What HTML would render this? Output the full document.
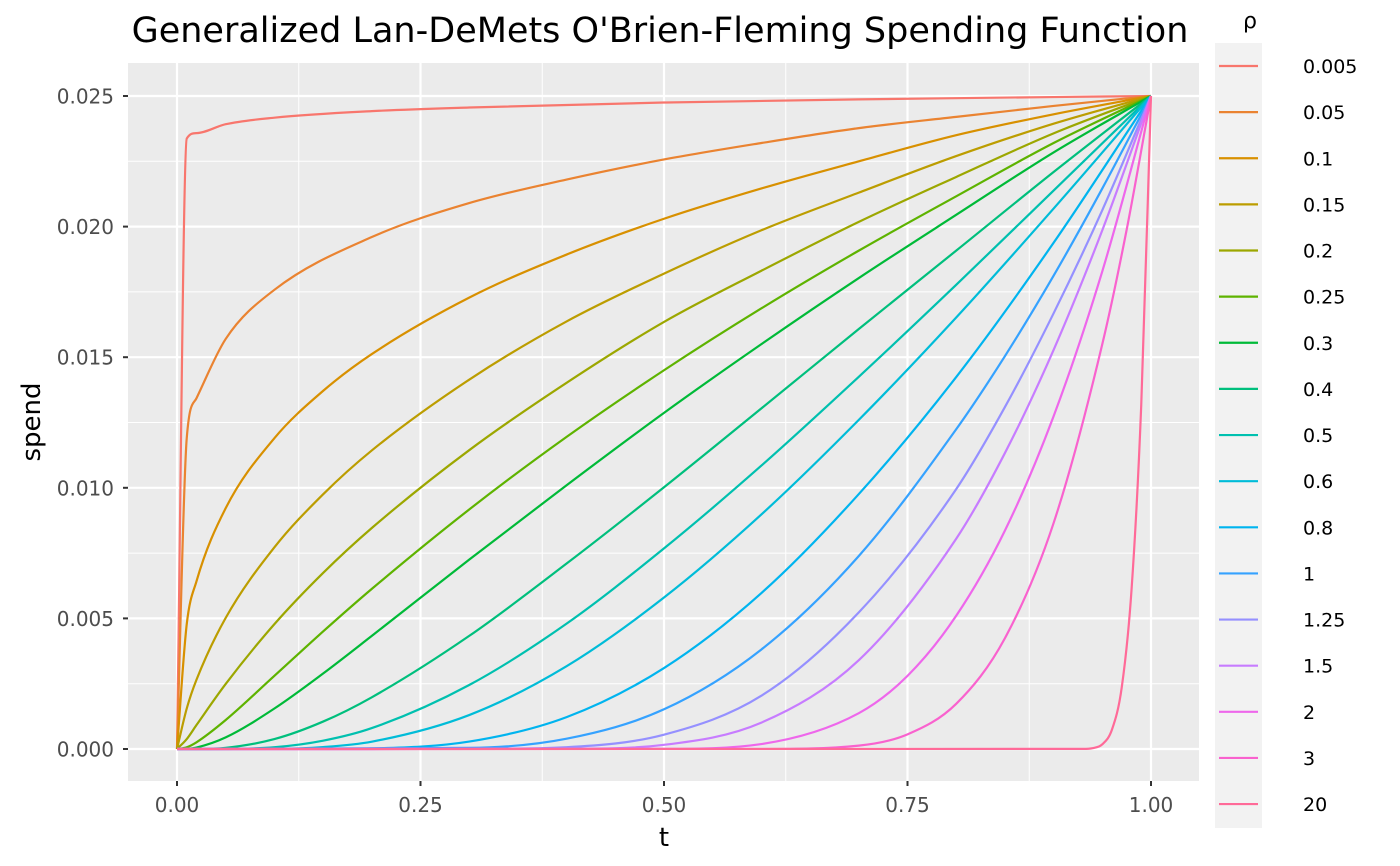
<!DOCTYPE html>
<html><head><meta charset="utf-8">
<style>
html,body{margin:0;padding:0;background:#fff;}
svg{display:block;font-family:"DejaVu Sans","Liberation Sans",sans-serif;}
</style></head>
<body>
<svg id="chart" width="1400" height="866" viewBox="0 0 1400 866">
<rect x="0" y="0" width="1400" height="866" fill="#fff"/>
<rect x="128" y="63" width="1071" height="718" fill="#ebebeb"/>
<g id="grid"></g>
<g id="series"></g>
<g id="axes"></g>
<text x="660" y="42" font-size="35" text-anchor="middle" fill="#000">Generalized Lan-DeMets O'Brien-Fleming Spending Function</text>
<text x="664" y="846" font-size="26" text-anchor="middle" fill="#000">t</text>
<text transform="translate(40,422) rotate(-90)" font-size="26" text-anchor="middle" fill="#000">spend</text>
<g id="legend">
<text x="1243" y="28" font-size="22" fill="#000">ρ</text>
<rect x="1215" y="43" width="47" height="785" fill="#f2f2f2"/>
</g>
</svg>
<script>
const xTicks = [0, 0.25, 0.5, 0.75, 1];
const xTickLabels = ["0.00", "0.25", "0.50", "0.75", "1.00"];
const yTicks = [0, 0.005, 0.01, 0.015, 0.02, 0.025];
const yTickLabels = ["0.000", "0.005", "0.010", "0.015", "0.020", "0.025"];
const colors = ["#F8766D","#EA8331","#D89000","#BC9D00","#9CA700","#5EB300","#00BA38","#00BF7D","#00C0AF","#00BCD8","#00B4EF","#35A2FF","#9590FF","#C77CFF","#EE67EB","#F962CE","#FF6A98"];
const t_r0005 = [0,0.01,0.02,0.05,0.1,0.2,0.3,0.5,0.7,0.9,1];
const s_r0005 = [0,0.02337,0.02358,0.02392,0.02417,0.02442,0.02456,0.02475,0.02487,0.02496,0.025];
const t_r005 = [0,0.01,0.02,0.05,0.1,0.2,0.3,0.4,0.5,0.6,0.7,0.8,0.9,1];
const s_r005 = [0,0.0119,0.01343,0.0157,0.01758,0.0196,0.0209,0.0218,0.02257,0.0232,0.02377,0.0242,0.02462,0.025];
const t_r01 = [0,0.01,0.02,0.05,0.1,0.15,0.2,0.3,0.4,0.5,0.6,0.7,0.8,0.9,1];
const s_r01 = [0,0.00478,0.00642,0.00922,0.0119,0.01371,0.01512,0.01728,0.01893,0.0203,0.02146,0.0225,0.0235,0.0243,0.025];
const t_r015 = [0,0.01,0.02,0.05,0.1,0.15,0.2,0.3,0.4,0.5,0.6,0.7,0.8,0.9,1];
const s_r015 = [0,0.00155,0.00265,0.00502,0.00772,0.00975,0.01143,0.01414,0.01637,0.0182,0.01986,0.0213,0.0227,0.02394,0.025];
const t_r02 = [0,0.01,0.02,0.05,0.1,0.15,0.2,0.3,0.4,0.5,0.6,0.7,0.8,0.9,1];
const s_r02 = [0,0.00038,0.000917,0.00249,0.00478,0.00674,0.00846,0.01144,0.01402,0.01635,0.01831,0.02018,0.0219,0.02357,0.025];
const t_r025 = [0,0.01,0.02,0.05,0.1,0.15,0.2,0.3,0.4,0.5,0.6,0.7,0.8,0.9,1];
const s_r025 = [0,0.000067,0.000257,0.00111,0.0028,0.0045,0.00613,0.00917,0.01195,0.0145,0.01687,0.01908,0.02116,0.0232,0.025];
const t_r03 = [0,0.01,0.02,0.05,0.1,0.15,0.2,0.3,0.4,0.5,0.6,0.7,0.8,0.9,1];
const s_r03 = [0,0.000008,0.000055,0.000443,0.00155,0.00289,0.00433,0.00725,0.0101,0.01287,0.0155,0.01803,0.02045,0.02284,0.025];
const t_r04 = [0,0.02,0.05,0.1,0.15,0.2,0.3,0.4,0.5,0.6,0.7,0.8,0.9,1];
const s_r04 = [0,0.000001,0.0000446,0.00038,0.00105,0.00198,0.00433,0.0071,0.01002,0.01304,0.01608,0.01908,0.02209,0.025];
const t_r05 = [0,0.05,0.1,0.15,0.2,0.3,0.4,0.5,0.6,0.7,0.8,0.9,1];
const s_r05 = [0,0.000003,0.000067,0.000318,0.0008,0.00245,0.0048,0.00768,0.01085,0.01425,0.01777,0.02138,0.025];
const t_r06 = [0,0.1,0.15,0.2,0.3,0.4,0.5,0.6,0.7,0.8,0.9,1];
const s_r06 = [0,0.000008,0.000075,0.00028,0.0013,0.00317,0.0058,0.00898,0.0126,0.01652,0.02069,0.025];
const t_r08 = [0,0.15,0.2,0.3,0.4,0.5,0.6,0.7,0.8,0.9,1];
const s_r08 = [0,0.000003,0.00002,0.000285,0.00122,0.0031,0.00597,0.00976,0.01424,0.01938,0.025];
const t_r1 = [0,0.3,0.4,0.5,0.6,0.7,0.8,0.85,0.9,0.95,1];
const s_r1 = [0,0.000043,0.000394,0.00152,0.00381,0.00739,0.01224,0.01504,0.01812,0.02146,0.025];
const t_r125 = [0,0.3,0.4,0.5,0.6,0.7,0.8,0.85,0.9,0.95,1];
const s_r125 = [0,0.000004,0.00007,0.00055,0.00204,0.00523,0.00995,0.01309,0.01668,0.02063,0.025];
const t_r15 = [0,0.4,0.5,0.6,0.7,0.8,0.85,0.9,0.95,1];
const s_r15 = [0,0.000008,0.00016,0.00101,0.0034,0.00805,0.01133,0.01528,0.01986,0.025];
const t_r2 = [0,0.5,0.6,0.7,0.75,0.8,0.85,0.9,0.95,1];
const s_r2 = [0,0.000007,0.00019,0.00137,0.0028,0.0051,0.00836,0.01274,0.01829,0.025];
const t_r3 = [0,0.6,0.7,0.75,0.8,0.85,0.9,0.95,0.975,1];
const s_r3 = [0,0.000003,0.00013,0.00056,0.00173,0.00424,0.00865,0.0155,0.01988,0.025];
const t_r20 = [0,0.93,0.94,0.95,0.96,0.97,0.98,0.99,1];
const s_r20 = [0,0.000004,0.000032,0.00018,0.00075,0.00237,0.00609,0.01319,0.025];

const seriesT = [t_r0005,t_r005,t_r01,t_r015,t_r02,t_r025,t_r03,t_r04,t_r05,t_r06,t_r08,t_r1,t_r125,t_r15,t_r2,t_r3,t_r20];
const seriesS = [s_r0005,s_r005,s_r01,s_r015,s_r02,s_r025,s_r03,s_r04,s_r05,s_r06,s_r08,s_r1,s_r125,s_r15,s_r2,s_r3,s_r20];
const legendLabels = ["0.005","0.05","0.1","0.15","0.2","0.25","0.3","0.4","0.5","0.6","0.8","1","1.25","1.5","2","3","20"];

const NS = "http://www.w3.org/2000/svg";
const X0 = 177, X1 = 1151, Y0 = 749, Y1 = 96;
function xs(v){ return X0 + (X1 - X0) * v; }
function ys(v){ return Y0 - (Y0 - Y1) * v / 0.025; }
function mk(tag, attrs, parent){ const e = document.createElementNS(NS, tag); for (const k in attrs) e.setAttribute(k, attrs[k]); parent.appendChild(e); return e; }

function monoPath(P){
  const n = P.length;
  const d = [], m = [];
  for (let i = 0; i < n - 1; i++) d.push((P[i+1][1] - P[i][1]) / (P[i+1][0] - P[i][0]));
  m[0] = d[0]; m[n-1] = d[n-2];
  for (let i = 1; i < n - 1; i++) m[i] = (d[i-1] * d[i] <= 0) ? 0 : (d[i-1] + d[i]) / 2;
  for (let i = 0; i < n - 1; i++) {
    if (d[i] === 0) { m[i] = 0; m[i+1] = 0; continue; }
    const a = m[i] / d[i], b = m[i+1] / d[i], s = a*a + b*b;
    if (s > 9) { const tau = 3 / Math.sqrt(s); m[i] = tau * a * d[i]; m[i+1] = tau * b * d[i]; }
  }
  let s = 'M' + P[0][0].toFixed(2) + ',' + P[0][1].toFixed(2);
  for (let i = 0; i < n - 1; i++) {
    const h = (P[i+1][0] - P[i][0]) / 3;
    s += ' C' + (P[i][0] + h).toFixed(2) + ',' + (P[i][1] + m[i] * h).toFixed(2) + ' ' +
         (P[i+1][0] - h).toFixed(2) + ',' + (P[i+1][1] - m[i+1] * h).toFixed(2) + ' ' +
         P[i+1][0].toFixed(2) + ',' + P[i+1][1].toFixed(2);
  }
  return s;
}

const grid = document.getElementById('grid');
for (let i = 0; i < xTicks.length - 1; i++) {
  const m = (xTicks[i] + xTicks[i+1]) / 2;
  const l = mk('line', {x1: xs(m), x2: xs(m), y1: 63, y2: 781, stroke: '#fff', 'stroke-width': 1}, grid);
  
  
}
for (let i = 0; i < yTicks.length - 1; i++) {
  const m = (yTicks[i] + yTicks[i+1]) / 2;
  const l = mk('line', {x1: 128, x2: 1199, y1: ys(m), y2: ys(m), stroke: '#fff', 'stroke-width': 1}, grid);
  
  
}
const axes = document.getElementById('axes');
xTicks.forEach((v, i) => {
  const l = mk('line', {x1: xs(v), x2: xs(v), y1: 63, y2: 781, stroke: '#fff', 'stroke-width': 2.2}, grid);
  
  
  const tk = mk('line', {x1: xs(v), x2: xs(v), y1: 781, y2: 786, stroke: '#333', 'stroke-width': 2}, axes);
  
  
  const tx = mk('text', {x: xs(v), y: 812, 'font-size': 20, 'text-anchor': 'middle', fill: '#4d4d4d'}, axes);
  tx.textContent = xTickLabels[i];
  
  
});
yTicks.forEach((v, i) => {
  const l = mk('line', {x1: 128, x2: 1199, y1: ys(v), y2: ys(v), stroke: '#fff', 'stroke-width': 2.2}, grid);
  
  
  const tk = mk('line', {x1: 123, x2: 128, y1: ys(v), y2: ys(v), stroke: '#333', 'stroke-width': 2}, axes);
  
  
  const tx = mk('text', {x: 114, y: ys(v) + 7.5, 'font-size': 20, 'text-anchor': 'end', fill: '#4d4d4d'}, axes);
  tx.textContent = yTickLabels[i];
  
  
});

const sg = document.getElementById('series');
seriesT.forEach((ts, k) => {
  const P = ts.map((t, j) => [xs(t), ys(seriesS[k][j])]);
  const p = mk('path', {d: monoPath(P), fill: 'none', stroke: colors[k], 'stroke-width': 2.2, 'stroke-linejoin': 'round'}, sg);
  
  
});

const lg = document.getElementById('legend');
legendLabels.forEach((lab, k) => {
  const y = 66 + k * 46.13;
  const l = mk('line', {x1: 1219, x2: 1258, y1: y, y2: y, stroke: colors[k], 'stroke-width': 2.2}, lg);
  
  
  const t = mk('text', {x: 1303, y: y + 7, 'font-size': 19, fill: '#000'}, lg);
  t.textContent = lab;
  
  
});
</script>
</body></html>
